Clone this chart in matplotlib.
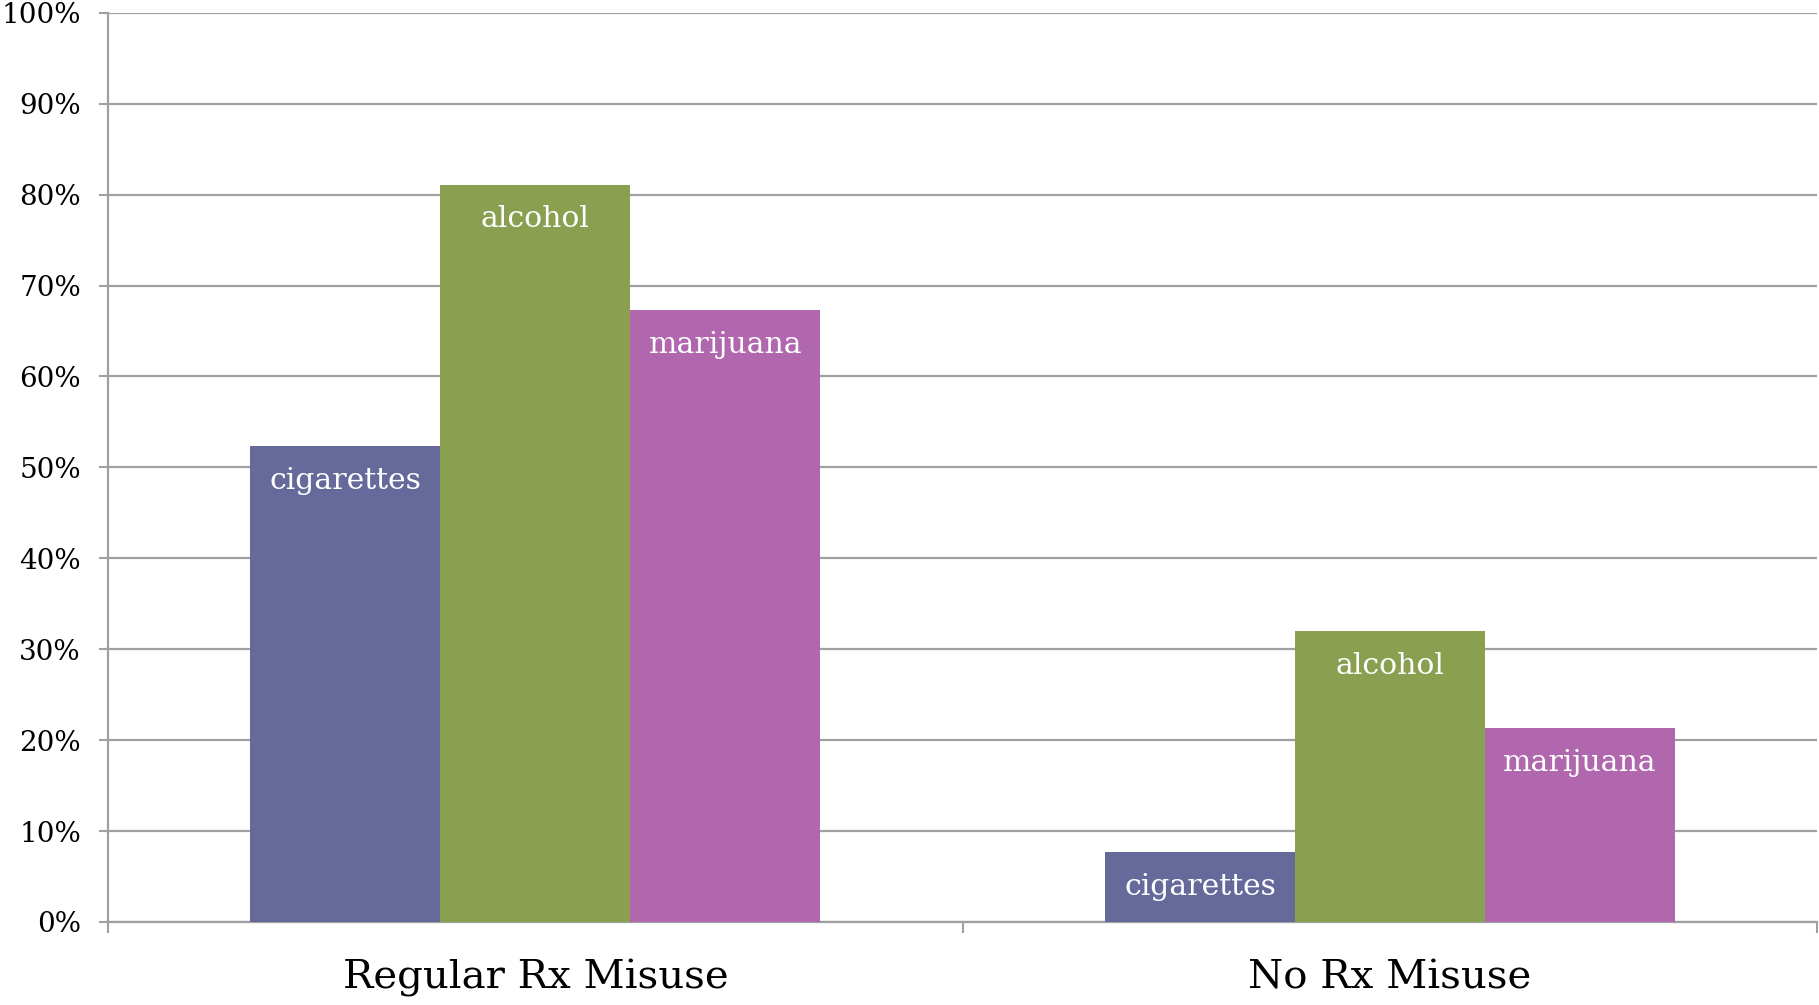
import numpy as np
import matplotlib
matplotlib.use("Agg")
import matplotlib.pyplot as plt
from matplotlib.ticker import FuncFormatter

groups = ["Regular Rx Misuse", "No Rx Misuse"]
substances = ["cigarettes", "alcohol", "marijuana"]
cigarettes = [52.3, 7.7]
alcohol = [81.1, 32.0]
marijuana = [67.3, 21.3]
colors = ["#666A9B", "#8A9F4F", "#B067AE"]

plt.rcParams['font.family'] = ['DejaVu Serif']

fig = plt.figure(figsize=(18.19, 10.05), dpi=100)
ax = fig.add_axes([0.0594, 0.0826, 0.9396, 0.9047])

x = np.arange(len(groups))
w = 1 / 4.5
series = [cigarettes, alcohol, marijuana]
for i, (vals, name, c) in enumerate(zip(series, substances, colors)):
    pos = x + (i - 1) * w
    ax.bar(pos, vals, width=w, color=c, zorder=3)
    for xp, v in zip(pos, vals):
        ax.annotate(name, (xp, v), xytext=(0, -15), textcoords="offset points",
                    ha="center", va="top", color="white", fontsize=21.5, zorder=4)

ax.set_xlim(-0.5, 1.5)
ax.set_ylim(0, 100)
ax.set_yticks(np.arange(0, 101, 10))
ax.yaxis.set_major_formatter(FuncFormatter(lambda v, p: f"{int(v)}%"))
ax.grid(axis="y", color="#A0A0A0", linewidth=1.6, zorder=0)

ax.set_xticks([-0.5, 0.5, 1.5])
ax.set_xticklabels([])
ax.set_xticks(x, minor=True)
ax.set_xticklabels(groups, minor=True, fontsize=29)
ax.tick_params(axis="x", which="minor", length=0, pad=27)
ax.tick_params(axis="x", which="major", length=8, width=1.5, color="#A0A0A0")
ax.tick_params(axis="y", length=6.5, width=1.5, color="#A0A0A0", pad=13, labelsize=20)

for s in ["top", "right"]:
    ax.spines[s].set_visible(False)
for s in ["left", "bottom"]:
    ax.spines[s].set_color("#A0A0A0")
    ax.spines[s].set_linewidth(1.6)

plt.savefig("out.png", dpi=100)
